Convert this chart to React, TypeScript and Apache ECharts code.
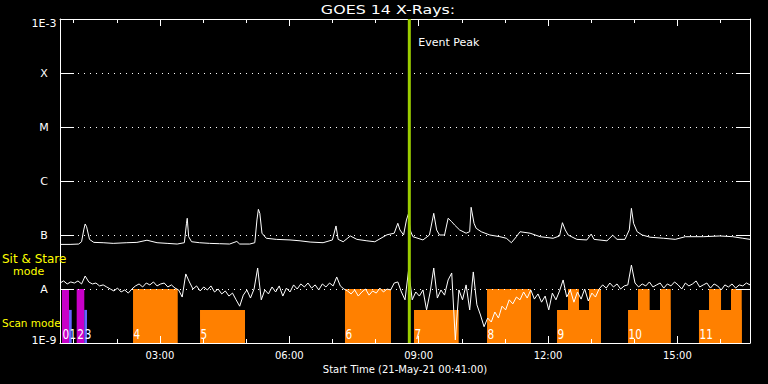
import React, { useEffect, useRef } from 'react';
import * as echarts from 'echarts';

// ---------- text ----------
const TITLE = 'GOES 14 X-Rays:';
const X_NAME = 'Start Time (21-May-21 00:41:00)';
const EVENT_LABEL = 'Event Peak';
const STARE_LABEL = 'Sit & Stare';
const STARE_LABEL_2 = 'mode';
const SCAN_LABEL = 'Scan mode';

// ---------- axes (x in minutes of the day) ----------
const X_MIN = 41; // 00:41
const X_MAX = 1001; // 16:41
const X_LABEL_TICKS = [180, 360, 540, 720, 900];
const X_MINOR_TICKS = [60, 120, 180, 240, 300, 360, 420, 480, 540, 600, 660, 720, 780, 840, 900, 960];
const Y_TICKS = [1e-9, 1e-8, 1e-7, 1e-6, 1e-5, 1e-4, 1e-3];
const Y_TICK_LABELS = ['1E-9', 'A', 'B', 'C', 'M', 'X', '1E-3'];
const Y_MIN = 1e-9;
const Y_MAX = 1e-3;

// ---------- GOES long channel (1-8 A) : [minute, flux] ----------
const LONG_CHANNEL: [number, number][] = [
  [41, 6.7e-8], [55, 6.7e-8], [67, 6.8e-8], [71, 7.5e-8], [74, 1.24e-7], [76, 1.6e-7], [78, 1.42e-7],
  [82, 8.3e-8], [88, 7.3e-8], [101, 7.2e-8], [115, 7.0e-8], [134, 7.2e-8], [148, 7.3e-8], [162, 8.0e-8],
  [176, 7.2e-8], [190, 7.0e-8], [204, 6.8e-8], [214, 7.2e-8], [217, 1.65e-7], [218, 2.04e-7], [220, 9.3e-8],
  [224, 7.5e-8], [235, 7.2e-8], [249, 7.0e-8], [263, 6.9e-8], [277, 6.8e-8], [287, 7.6e-8], [291, 6.8e-8],
  [305, 6.8e-8], [312, 7.2e-8], [315, 1.9e-7], [317, 2.99e-7], [319, 2.52e-7], [322, 1.08e-7], [328, 8.7e-8],
  [342, 8.3e-8], [361, 8.1e-8], [375, 7.8e-8], [389, 7.4e-8], [407, 7.2e-8], [420, 8.1e-8], [425, 1.47e-7],
  [428, 8.3e-8], [435, 7.5e-8], [445, 9.6e-8], [454, 8.3e-8], [468, 7.8e-8], [479, 7.5e-8], [496, 1.01e-7],
  [506, 1.08e-7], [511, 1.65e-7], [514, 1.24e-7], [519, 1.0e-7], [523, 1.9e-7], [526, 2.52e-7], [528, 1.24e-7],
  [532, 9.3e-8], [546, 8.1e-8], [555, 1.0e-7], [561, 2.52e-7], [565, 1.24e-7], [569, 1.0e-7], [576, 1.0e-7],
  [581, 2.04e-7], [586, 1.76e-7], [590, 1.53e-7], [597, 1.24e-7], [606, 1.08e-7], [611, 1.15e-7], [613, 3.26e-7],
  [617, 1.65e-7], [620, 1.33e-7], [627, 1.15e-7], [639, 1.0e-7], [653, 9.3e-8], [662, 8.7e-8], [669, 7.2e-8],
  [676, 9.3e-8], [681, 1.15e-7], [695, 1.08e-7], [709, 9.3e-8], [727, 8.7e-8], [736, 9.6e-8], [740, 1.69e-7],
  [744, 1.24e-7], [748, 1.0e-7], [760, 8.3e-8], [774, 8.1e-8], [780, 1.04e-7], [784, 8.3e-8], [802, 7.8e-8],
  [810, 9.9e-8], [816, 8.3e-8], [827, 8.3e-8], [833, 1.24e-7], [836, 3.12e-7], [839, 1.65e-7], [844, 1.15e-7],
  [851, 1.0e-7], [862, 9.1e-8], [881, 8.7e-8], [897, 8.3e-8], [911, 9.3e-8], [936, 9.3e-8], [959, 9.6e-8],
  [977, 9.3e-8], [991, 8.7e-8], [1001, 8.3e-8],
];

// ---------- GOES short channel (0.5-4 A), sampled every 5 minutes from 00:41 ----------
const SHORT_START = 41;
const SHORT_STEP = 5;
const SHORT_FLUX = [
  1.29e-8, 1.41e-8, 1.24e-8, 1.35e-8, 1.29e-8, 1.41e-8, 1.24e-8, 1.74e-8, 1.35e-8, 1.24e-8,
  1.29e-8, 1.14e-8, 1.19e-8, 1.09e-8, 1.0e-8, 9.2e-9, 1.04e-8, 8.8e-9, 9.6e-9, 8.4e-9,
  1.0e-8, 1.14e-8, 1.24e-8, 1.09e-8, 1.29e-8, 1.19e-8, 1.35e-8, 1.14e-8, 1.24e-8, 1.29e-8,
  1.09e-8, 1.19e-8, 1.04e-8, 9.6e-9, 7.1e-9, 1.9e-8, 1.35e-8, 1.0e-8, 1.14e-8, 9.2e-9,
  1.09e-8, 9.6e-9, 1.14e-8, 8.8e-9, 1.0e-8, 8.1e-9, 9.2e-9, 7.4e-9, 8.4e-9, 6.3e-9,
  4.8e-9, 7.7e-9, 9.6e-9, 6.8e-9, 1.0e-8, 2.45e-8, 6.3e-9, 9.6e-9, 8.1e-9, 1.09e-8,
  8.8e-9, 1.14e-8, 7.4e-9, 1.04e-8, 8.8e-9, 1.19e-8, 1.0e-8, 1.24e-8, 1.09e-8, 1.29e-8,
  1.04e-8, 1.19e-8, 9.6e-9, 1.24e-8, 1.09e-8, 1.29e-8, 1.14e-8, 1.67e-8, 1.14e-8, 1.0e-8,
  9.2e-9, 8.1e-9, 9.6e-9, 7.4e-9, 8.8e-9, 1.0e-8, 7.7e-9, 9.2e-9, 8.4e-9, 1.04e-8,
  8.8e-9, 1.0e-8, 9.6e-9, 1.29e-8, 1.35e-8, 8.8e-9, 6.3e-9, 2.25e-8, 6.3e-9, 8.8e-9,
  7.4e-9, 9.6e-9, 4.1e-9, 8.8e-9, 2.45e-8, 6.8e-9, 9.6e-9, 7.7e-9, 1.47e-8, 1.98e-8,
  1.14e-9, 9.6e-9, 6.3e-9, 1.19e-8, 4.1e-9, 2.07e-8, 5.1e-9, 3.3e-9, 2.0e-9, 2.9e-9,
  2.45e-9, 3.75e-9, 2.9e-9, 4.8e-9, 4.1e-9, 6.3e-9, 5.3e-9, 7.1e-9, 6.3e-9, 8.8e-9,
  6.8e-9, 9.6e-9, 6.5e-9, 8.1e-9, 5.7e-9, 7.4e-9, 4.1e-9, 8.4e-9, 6.3e-9, 9.2e-9,
  1.47e-8, 7.1e-9, 9.6e-9, 5.7e-9, 8.8e-9, 6.5e-9, 1.0e-8, 6.0e-9, 8.4e-9, 7.1e-9,
  1.0e-8, 1.19e-8, 1.04e-8, 1.29e-8, 1.09e-8, 1.24e-8, 1.0e-8, 1.14e-8, 1.19e-8, 2.78e-8,
  1.29e-8, 1.09e-8, 1.24e-8, 1.14e-8, 1.35e-8, 1.09e-8, 1.19e-8, 1.29e-8, 1.04e-8, 1.24e-8,
  1.14e-8, 1.35e-8, 1.19e-8, 1.0e-8, 1.29e-8, 1.14e-8, 1.24e-8, 1.41e-8, 1.09e-8, 1.19e-8,
  1.29e-8, 1.04e-8, 1.24e-8, 1.14e-8, 9.6e-9, 1.19e-8, 1.09e-8, 1.24e-8, 1.04e-8, 1.19e-8,
  1.14e-8, 1.29e-8, 1.19e-8,
];

// ---------- IRIS rasters (minutes of the day) ----------
const RASTER_IDS = ['0', '1', '2', '3', '4', '5', '6', '7', '8', '9', '10', '11'];
const RASTER_START = [43.8, 53.5, 64.2, 74.8, 142.6, 235.8, 437.5, 533.5, 635.1, 732.5, 831.3, 930];
const RASTER_END = [53.5, 57.3, 74.8, 78.6, 204.8, 298.4, 501.5, 595.7, 696.3, 793.7, 890.7, 989.5];
const RASTER_MODE = ['stare', 'scan', 'stare', 'scan', 'stare', 'scan', 'stare', 'scan', 'stare', 'scan', 'scan', 'scan'];
const RASTER_KIND = ['magenta', 'blue', 'magenta', 'blue', 'orange', 'orange', 'orange', 'orange', 'orange', 'orange', 'orange', 'orange'];
const STARE_SUB_START = [747.8, 777, 845.2, 875.8, 944, 974.6];
const STARE_SUB_END = [763.1, 793.7, 861.4, 890.7, 960.7, 989.5];
const MODE_LEVEL: Record<string, number> = { stare: 1e-8, scan: 4.1e-9 };
const EVENT_PEAK_TIME = 527; // 08:47

// ---------- style ----------
const FONT = 'DejaVu Sans';
const WHITE = '#ffffff';
const YELLOW = '#ffff00';
const GREEN = '#9bcd00';
const KIND_COLOR: Record<string, string> = { magenta: '#c800c8', blue: '#6464ff', orange: '#ff8000' };

const pad2 = (n: number) => String(n).padStart(2, '0');
const fmtTime = (v: number) => `${pad2(Math.floor(v / 60))}:${pad2(Math.round(v % 60))}`;
const fmtFlux = (v: number) => {
  const idx = Math.round(Math.log10(v)) + 9;
  const label = Y_TICK_LABELS[idx] ?? '';
  if (idx === 0) return `{bot|${label}}`;
  if (idx === Y_TICK_LABELS.length - 1) return `{top|${label}}`;
  return label;
};

export default function App() {
  const ref = useRef<HTMLDivElement>(null);

  useEffect(() => {
    if (!ref.current) return;
    const chart = echarts.init(ref.current, null, { renderer: 'svg' });

    const blocks: { start: number; end: number; top: number; color: string }[] = [];
    RASTER_START.forEach((s, i) => {
      blocks.push({ start: s, end: RASTER_END[i], top: MODE_LEVEL[RASTER_MODE[i]], color: KIND_COLOR[RASTER_KIND[i]] });
    });
    STARE_SUB_START.forEach((s, i) => {
      blocks.push({ start: s, end: STARE_SUB_END[i], top: MODE_LEVEL.stare, color: KIND_COLOR.orange });
    });

    const shortData = SHORT_FLUX.map((v, i) => [SHORT_START + i * SHORT_STEP, v]);

    const axisLineStyle = { color: WHITE, width: 1 };
    const baseX = { type: 'value', min: X_MIN, max: X_MAX, gridIndex: 0, z: 5, splitLine: { show: false } };
    const baseY = { type: 'log', logBase: 10, min: Y_MIN, max: Y_MAX, gridIndex: 0, z: 5 };
    const yLabelText = { color: WHITE, fontFamily: FONT, fontSize: 11 };

    const option: any = {
      animation: false,
      backgroundColor: '#000000',
      grid: { left: 60, right: 18, top: 19, bottom: 41, containLabel: false },
      xAxis: [
        {
          ...baseX,
          position: 'bottom',
          axisLine: { show: true, onZero: false, lineStyle: axisLineStyle },
          axisTick: { show: true, inside: true, length: 7, customValues: X_LABEL_TICKS, lineStyle: axisLineStyle },
          axisLabel: { show: true, customValues: X_LABEL_TICKS, formatter: fmtTime, color: WHITE, fontFamily: FONT, fontSize: 10, margin: 7 },
          name: X_NAME,
          nameLocation: 'middle',
          nameGap: 20,
          nameTextStyle: { color: WHITE, fontFamily: FONT, fontSize: 10 },
        },
        {
          ...baseX,
          position: 'bottom',
          axisLine: { show: false, onZero: false },
          axisTick: { show: true, inside: true, length: 4, customValues: X_MINOR_TICKS, lineStyle: axisLineStyle },
          axisLabel: { show: false },
        },
        {
          ...baseX,
          position: 'top',
          axisLine: { show: true, onZero: false, lineStyle: axisLineStyle },
          axisTick: { show: true, inside: true, length: 7, customValues: X_LABEL_TICKS, lineStyle: axisLineStyle },
          axisLabel: { show: false },
        },
        {
          ...baseX,
          position: 'top',
          axisLine: { show: false, onZero: false },
          axisTick: { show: true, inside: true, length: 4, customValues: X_MINOR_TICKS, lineStyle: axisLineStyle },
          axisLabel: { show: false },
        },
      ],
      yAxis: [
        {
          ...baseY,
          position: 'left',
          splitNumber: 6,
          axisLine: { show: true, onZero: false, lineStyle: axisLineStyle },
          axisTick: { show: true, inside: true, length: 14, customValues: Y_TICKS, lineStyle: axisLineStyle },
          axisLabel: {
            show: true,
            customValues: Y_TICKS,
            formatter: fmtFlux,
            ...yLabelText,
            align: 'center',
            margin: 16,
            rich: {
              top: { ...yLabelText, padding: [8, 0, 0, 0] },
              bot: { ...yLabelText, padding: [0, 0, 6, 0] },
            },
          },
          splitLine: { show: true, lineStyle: { color: WHITE, width: 1, type: [1, 5] } },
          minorTick: { show: false },
          minorSplitLine: { show: false },
        },
        {
          ...baseY,
          position: 'right',
          splitNumber: 6,
          axisLine: { show: true, onZero: false, lineStyle: axisLineStyle },
          axisTick: { show: true, inside: true, length: 14, customValues: Y_TICKS, lineStyle: axisLineStyle },
          axisLabel: { show: false },
          splitLine: { show: false },
        },
      ],
      graphic: [
        { type: 'text', x: 388, y: 9.5, scaleX: 1.22, z: 10, style: { text: TITLE, fill: WHITE, fontFamily: FONT, fontSize: 13, align: 'center', verticalAlign: 'middle' } },
        { type: 'text', x: 2, y: 259, z: 10, style: { text: STARE_LABEL, fill: YELLOW, fontFamily: FONT, fontSize: 12, align: 'left', verticalAlign: 'middle' } },
        { type: 'text', x: 13, y: 271, z: 10, style: { text: STARE_LABEL_2, fill: YELLOW, fontFamily: FONT, fontSize: 11, align: 'left', verticalAlign: 'middle' } },
        { type: 'text', x: 2, y: 323, z: 10, style: { text: SCAN_LABEL, fill: YELLOW, fontFamily: FONT, fontSize: 10.5, align: 'left', verticalAlign: 'middle' } },
      ],
      series: [
        {
          type: 'custom',
          name: 'rasters',
          xAxisIndex: 0,
          yAxisIndex: 0,
          z: 1,
          encode: { x: [0, 1], y: 2 },
          data: blocks.map((b) => [b.start, b.end, b.top]),
          renderItem: (params: any, api: any) => {
            const b = blocks[params.dataIndex];
            const p0 = api.coord([api.value(0), api.value(2)]);
            const p1 = api.coord([api.value(1), Y_MIN]);
            return {
              type: 'rect',
              shape: { x: p0[0], y: p0[1], width: p1[0] - p0[0], height: p1[1] - p0[1] },
              style: { fill: b.color },
            };
          },
        },
        {
          type: 'line',
          name: 'long',
          xAxisIndex: 0,
          yAxisIndex: 0,
          z: 3,
          showSymbol: false,
          symbol: 'none',
          lineStyle: { color: WHITE, width: 1 },
          data: LONG_CHANNEL,
        },
        {
          type: 'line',
          name: 'short',
          xAxisIndex: 0,
          yAxisIndex: 0,
          z: 3,
          showSymbol: false,
          symbol: 'none',
          lineStyle: { color: WHITE, width: 1 },
          data: shortData,
        },
        {
          type: 'custom',
          name: 'rasterLabels',
          xAxisIndex: 0,
          yAxisIndex: 0,
          z: 4,
          encode: { x: 0, y: 1 },
          data: RASTER_START.map((s) => [s, Y_MIN]),
          renderItem: (params: any, api: any) => {
            const p = api.coord([api.value(0), api.value(1)]);
            return {
              type: 'text',
              x: p[0] + 0.5,
              y: p[1] - 9,
              scaleX: 0.75,
              style: { text: RASTER_IDS[params.dataIndex], fill: WHITE, fontFamily: FONT, fontSize: 14, align: 'left', verticalAlign: 'middle' },
            };
          },
        },
        {
          type: 'custom',
          name: 'eventPeak',
          xAxisIndex: 0,
          yAxisIndex: 0,
          z: 6,
          encode: { x: 0, y: 1 },
          data: [[EVENT_PEAK_TIME, Y_MAX]],
          renderItem: (params: any, api: any) => {
            const top = api.coord([api.value(0), api.value(1)]);
            const bottom = api.coord([api.value(0), Y_MIN]);
            return {
              type: 'group',
              children: [
                { type: 'line', shape: { x1: top[0], y1: top[1], x2: bottom[0], y2: bottom[1] }, style: { stroke: GREEN, lineWidth: 3 } },
                { type: 'text', x: top[0] + 9, y: top[1] + 23.5, style: { text: EVENT_LABEL, fill: WHITE, fontFamily: FONT, fontSize: 11, align: 'left', verticalAlign: 'middle' } },
              ],
            };
          },
        },
      ],
    };

    chart.setOption(option);
    return () => chart.dispose();
  }, []);

  return (
    <div
      ref={ref}
      style={{ position: 'fixed', left: 0, top: 0, width: 768, height: 384, background: '#000000' }}
    />
  );
}
